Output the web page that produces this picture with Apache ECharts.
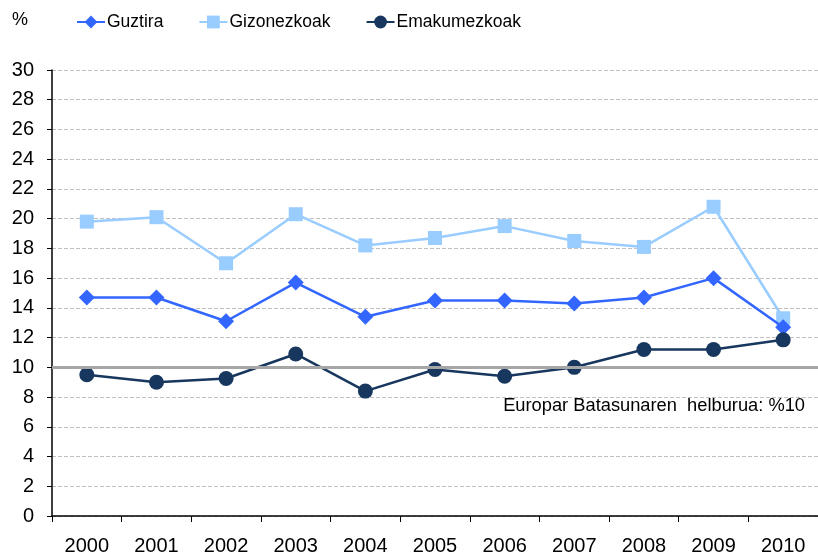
<!DOCTYPE html>
<html>
<head>
<meta charset="utf-8">
<script src="https://cdn.jsdelivr.net/npm/echarts@6/dist/echarts.min.js"></script>
<style>html,body{margin:0;padding:0;background:#fff;}#c{width:818px;height:556px;}</style>
</head>
<body>
<div id="c"></div>
<script>
const years = ['2000','2001','2002','2003','2004','2005','2006','2007','2008','2009','2010'];
const guztira = [14.7, 14.7, 13.1, 15.7, 13.4, 14.5, 14.5, 14.3, 14.7, 16.0, 12.7];
const gizonezkoak = [19.8, 20.1, 17.0, 20.3, 18.2, 18.7, 19.5, 18.5, 18.1, 20.8, 13.3];
const emakumezkoak = [9.5, 9.0, 9.25, 10.9, 8.4, 9.85, 9.4, 10.0, 11.2, 11.2, 11.85];
const targetValue = 10;
const targetLabel = 'Europar Batasunaren  helburua: %10';

const font = '"Liberation Sans", Arial, sans-serif';
const chart = echarts.init(document.getElementById('c'));
chart.setOption({
  animation: false,
  textStyle: { fontFamily: font },
  grid: { left: 52, top: 70, width: 772, bottom: 38 },
  title: { text: '%', left: 7, top: 6, textStyle: { fontSize: 18, fontWeight: 'normal', color: '#000', fontFamily: font } },
  legend: {
    left: 71, top: 8, itemWidth: 28, itemHeight: 16, itemGap: 35,
    textStyle: { fontSize: 17.5, color: '#000', fontFamily: font, padding: [0, 0, 0, -3] },
    data: ['Guztira', 'Gizonezkoak', 'Emakumezkoak']
  },
  xAxis: {
    type: 'category', data: years, boundaryGap: true,
    axisLine: { lineStyle: { color: '#000', width: 1.5 } },
    axisTick: { show: true, inside: false, length: 6, interval: 0, lineStyle: { color: '#000' } },
    axisLabel: { fontSize: 20, color: '#000', margin: 20, fontFamily: font }
  },
  yAxis: {
    type: 'value', min: 0, max: 30, interval: 2,
    axisLine: { show: true, lineStyle: { color: '#000', width: 1.5 } },
    axisTick: { show: true, length: 5, lineStyle: { color: '#000' } },
    axisLabel: { fontSize: 20, color: '#000', margin: 18, fontFamily: font },
    splitLine: { lineStyle: { color: '#c0c0c0', type: [4, 2] } }
  },
  graphic: [{
    type: 'text', right: 13, top: 397,
    style: { text: targetLabel, font: '18.3px ' + font, fill: '#000' }
  }],
  series: [
    {
      name: 'Guztira', type: 'line', data: guztira, z: 3,
      symbol: 'diamond', symbolSize: 16,
      lineStyle: { color: '#3366ff', width: 2.5 }, itemStyle: { color: '#3366ff' }
    },
    {
      name: 'Gizonezkoak', type: 'line', data: gizonezkoak, z: 2,
      symbol: 'rect', symbolSize: 14,
      lineStyle: { color: '#99ccff', width: 2.5 }, itemStyle: { color: '#99ccff' }
    },
    {
      name: 'Emakumezkoak', type: 'line', data: emakumezkoak, z: 4,
      symbol: 'circle', symbolSize: 15,
      lineStyle: { color: '#17375e', width: 2.5 }, itemStyle: { color: '#17375e' },
      markLine: {
        silent: true, symbol: 'none', label: { show: false },
        lineStyle: { color: '#a6a6a6', width: 3, type: 'solid' },
        data: [{ yAxis: targetValue }]
      }
    }
  ]
});
</script>
</body>
</html>
